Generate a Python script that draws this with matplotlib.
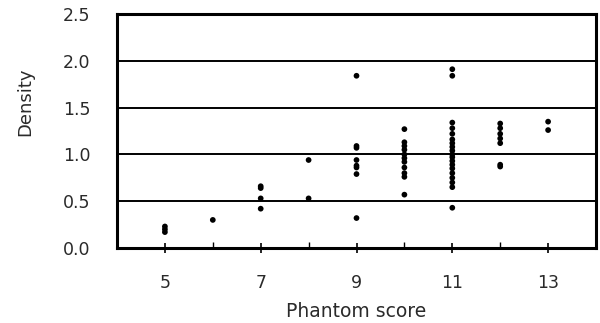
import matplotlib
matplotlib.use("Agg")
import matplotlib.pyplot as plt

score_5 = [0.23, 0.20, 0.17]
score_6 = [0.30]
score_7 = [0.66, 0.64, 0.53, 0.42]
score_8 = [0.94, 0.53]
score_9 = [1.84, 1.09, 1.07, 0.94, 0.88, 0.86, 0.79, 0.32]
score_10 = [1.27, 1.13, 1.09, 1.05, 1.00, 0.96, 0.92, 0.86, 0.80, 0.76, 0.57]
score_11 = [1.91, 1.84, 1.34, 1.28, 1.22, 1.16, 1.12, 1.08, 1.04, 1.00, 0.97,
            0.93, 0.89, 0.85, 0.80, 0.75, 0.70, 0.65, 0.43]
score_12 = [1.33, 1.28, 1.22, 1.17, 1.12, 0.89, 0.87]
score_13 = [1.35, 1.26]

groups = {5: score_5, 6: score_6, 7: score_7, 8: score_8, 9: score_9,
          10: score_10, 11: score_11, 12: score_12, 13: score_13}

xticks = [5, 7, 9, 11, 13]
yticks = [0.0, 0.5, 1.0, 1.5, 2.0, 2.5]

plt.rcParams['font.family'] = ['DejaVu Sans']
txt_color = '#2a2a2a'

fig = plt.figure(figsize=(6.0, 3.23), dpi=100)
ax = fig.add_axes([117/600, 1-248/323, (596-117)/600, (248-14)/323])

for s, vals in groups.items():
    ax.scatter([s]*len(vals), vals, s=17, color='black', edgecolors='none', zorder=3)

ax.set_xlim(4, 14)
ax.set_ylim(0, 2.5)
for y in yticks[1:-1]:
    ax.axhline(y, color='black', lw=1.4, zorder=1)

ax.set_xticks(xticks)
ax.set_xticks([6, 8, 10, 12], minor=True)
ax.set_yticks(yticks)
ax.set_yticklabels([f"{v:.1f}" for v in yticks])
ax.tick_params(axis='x', which='major', direction='inout', length=7, width=1.2,
               pad=15, labelsize=12.5, labelcolor=txt_color)
ax.tick_params(axis='x', which='minor', direction='in', length=4, width=1.0)
ax.tick_params(axis='y', which='both', length=0, pad=19, labelsize=12.5,
               labelcolor=txt_color)
for sp in ax.spines.values():
    sp.set_linewidth(2.2)

fig.text(356/600, 1-317/323, 'Phantom score', fontsize=13.5, color=txt_color,
         ha='center', va='baseline')
fig.text(25/600, 1-102/323, 'Density', fontsize=13, color=txt_color,
         rotation=90, ha='center', va='center')

fig.savefig('out.png', dpi=100)
